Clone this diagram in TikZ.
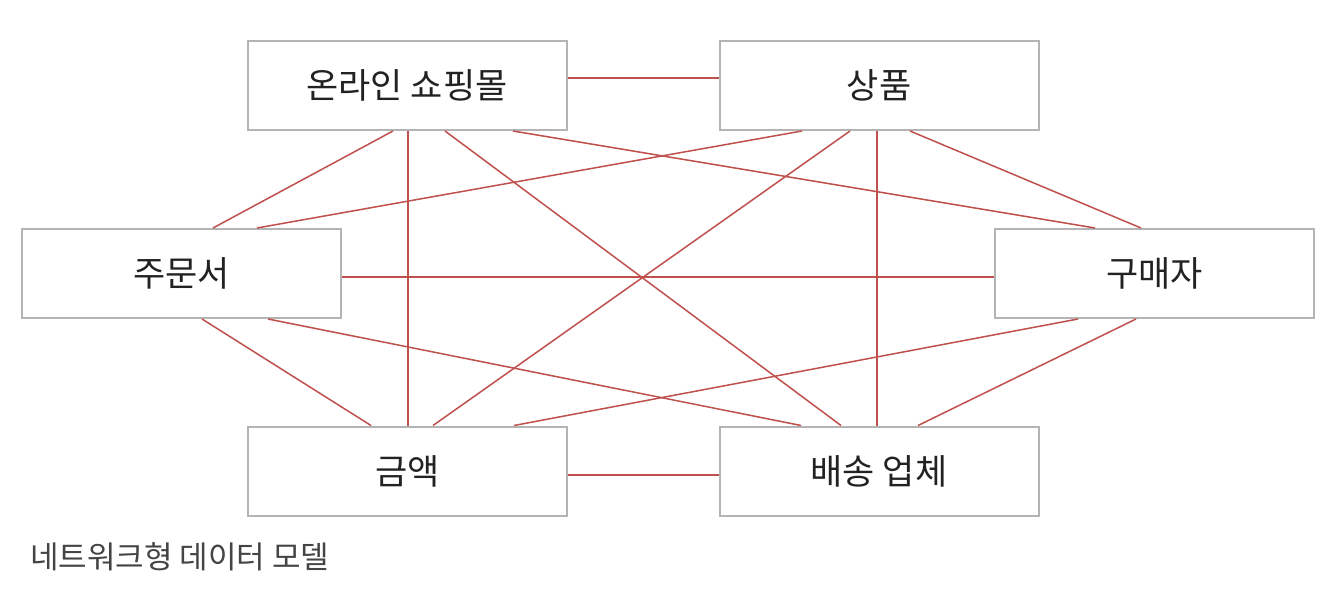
\documentclass[tikz,border=0pt]{standalone}
\usepackage{fontspec}
\setmainfont{Noto Sans CJK KR}
\definecolor{linkred}{HTML}{C0504D}
\definecolor{boxgray}{HTML}{B4B4B4}
\definecolor{txt}{HTML}{222222}
\definecolor{captxt}{HTML}{444444}
\begin{document}
\begin{tikzpicture}[x=1pt,y=-1pt,
  entity/.style={draw=boxgray, line width=2pt, fill=white, rectangle,
    minimum width=319pt, minimum height=89pt, inner sep=0pt,
    font=\fontsize{35}{40}\selectfont, text=txt},
  link/.style={draw=linkred, line width=1.5pt}]
\useasboundingbox[fill=white] (0,0) rectangle (1328,594);
\node[entity] (A) at (407,85.5) {온라인 쇼핑몰};
\node[entity] (B) at (879,85.5) {상품};
\node[entity] (C) at (181.5,273.5) {주문서};
\node[entity] (D) at (1154.5,273.5) {구매자};
\node[entity] (E) at (407.5,471) {금액};
\node[entity] (F) at (879,471) {배송 업체};
\draw[link] ([yshift=7.5pt]A.east) -- ([yshift=7.5pt]B.west);
\draw[link] ([xshift=1pt]A.south) -- ([xshift=0.5pt]E.north);
\draw[link] ([xshift=-14pt]A.south) -- ([xshift=31.5pt]C.north);
\draw[link] ([xshift=38pt]A.south) -- ([xshift=-38pt]F.north);
\draw[link] ([xshift=106pt]A.south) -- ([xshift=-59.5pt]D.north);
\draw[link] ([xshift=-77pt]B.south) -- ([xshift=75.5pt]C.north);
\draw[link] ([xshift=-29pt]B.south) -- ([xshift=25.5pt]E.north);
\draw[link] ([xshift=-2pt]B.south) -- ([xshift=-2pt]F.north);
\draw[link] ([xshift=31pt]B.south) -- ([xshift=-13.5pt]D.north);
\draw[link] ([yshift=-3.5pt]C.east) -- ([yshift=-3.5pt]D.west);
\draw[link] ([xshift=20.5pt]C.south) -- ([xshift=-36.5pt]E.north);
\draw[link] ([xshift=86.5pt]C.south) -- ([xshift=-78pt]F.north);
\draw[link] ([xshift=-76.5pt]D.south) -- ([xshift=106.5pt]E.north);
\draw[link] ([xshift=-18.5pt]D.south) -- ([xshift=39pt]F.north);
\draw[link] ([yshift=-4pt]E.east) -- ([yshift=-4pt]F.west);
\node[anchor=west, inner sep=0pt, text=captxt, font=\fontsize{31}{36}\selectfont] (cap) at (30,557) {네트워크형 데이터 모델};
\end{tikzpicture}
\end{document}
